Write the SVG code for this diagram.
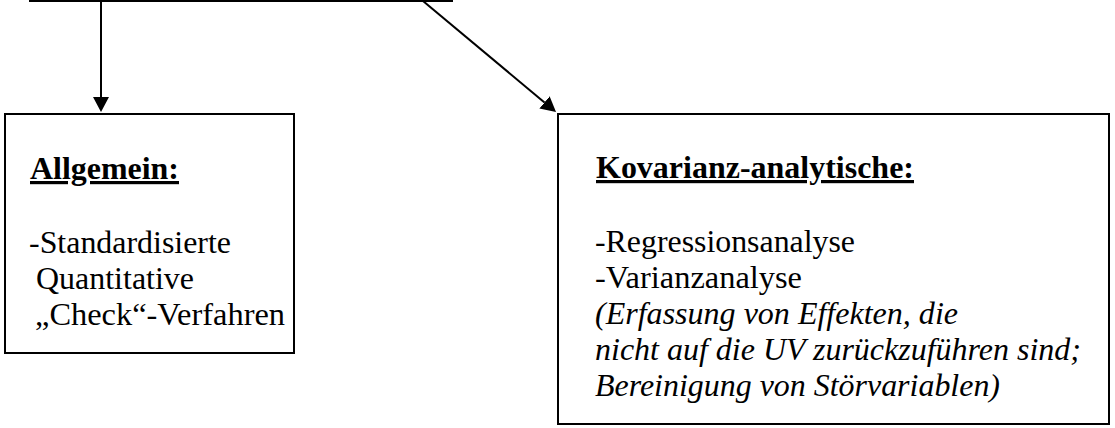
<svg xmlns="http://www.w3.org/2000/svg" width="1115" height="428" viewBox="0 0 1115 428">
<style>
.box{fill:#fff;stroke:#000;stroke-width:2}
.ln{stroke:#000;stroke-width:2;fill:none}
.t{font-family:'Liberation Serif','Times New Roman',Tinos,'DejaVu Serif',serif;font-size:32px;fill:#000}
.h{font-weight:bold;text-decoration:underline}
.i{font-style:italic}
</style>
<defs>
<marker id="arr" viewBox="0 0 15 16" refX="0" refY="8" markerWidth="15" markerHeight="16" markerUnits="userSpaceOnUse" orient="auto">
<path d="M0,0 L15,8 L0,16 z" fill="#000"/>
</marker>
</defs>
<g id="connectors">
<line class="ln" x1="29" y1="1" x2="453" y2="1"/>
<line class="ln" x1="101" y1="1" x2="101" y2="97" marker-end="url(#arr)"/>
<line class="ln" x1="423" y1="1" x2="544.5" y2="102.4" marker-end="url(#arr)"/>
</g>
<g id="allgemein">
<rect class="box" x="5" y="114" width="289" height="239"/>
<text class="t h" x="30" y="179" textLength="149" lengthAdjust="spacingAndGlyphs">Allgemein:</text>
<text class="t" x="29" y="253" textLength="202" lengthAdjust="spacingAndGlyphs">-Standardisierte</text>
<text class="t" x="36" y="289" textLength="158" lengthAdjust="spacingAndGlyphs">Quantitative</text>
<text class="t" x="35" y="325" textLength="250" lengthAdjust="spacingAndGlyphs">„Check“-Verfahren</text>
</g>
<g id="kovarianz">
<rect class="box" x="558" y="114" width="551" height="310"/>
<text class="t h" x="596" y="178" textLength="318" lengthAdjust="spacingAndGlyphs">Kovarianz-analytische:</text>
<text class="t" x="595" y="252" textLength="260" lengthAdjust="spacingAndGlyphs">-Regressionsanalyse</text>
<text class="t" x="595" y="288" textLength="207" lengthAdjust="spacingAndGlyphs">-Varianzanalyse</text>
<text class="t i" x="595" y="324" textLength="363" lengthAdjust="spacingAndGlyphs">(Erfassung von Effekten, die</text>
<text class="t i" x="595" y="360" textLength="486" lengthAdjust="spacingAndGlyphs">nicht auf die UV zurückzuführen sind;</text>
<text class="t i" x="595" y="396" textLength="405" lengthAdjust="spacingAndGlyphs">Bereinigung von Störvariablen)</text>
</g>
</svg>
